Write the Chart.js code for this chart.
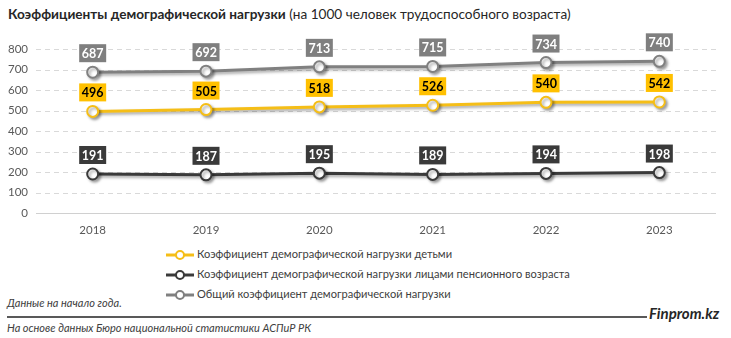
<!DOCTYPE html>
<html><head><meta charset="utf-8">
<script src="https://cdn.jsdelivr.net/npm/chart.js@4.4.1/dist/chart.umd.min.js"></script>
<style>
html,body{margin:0;padding:0;background:#fff;}
body{width:731px;height:338px;position:relative;overflow:hidden;font-family:Lato,"Open Sans",sans-serif;color:#404040;}
#title{position:absolute;left:8px;top:6px;font-size:13.6px;color:#262626;white-space:nowrap;}
#title b{font-weight:bold;}
#wrap{position:absolute;left:0;top:25px;width:731px;height:222px;}
.leg{position:absolute;left:165px;font-size:11.1px;color:#404040;white-space:nowrap;height:14px;line-height:14px;}
.leg svg{vertical-align:middle;margin-right:2px;}
#note{position:absolute;left:7px;top:296px;font-size:11px;font-style:italic;color:#404040;}
#rule{position:absolute;left:7px;top:316px;width:640px;height:2px;background:#595959;}
#brand{position:absolute;left:649px;top:304px;font-size:15px;font-weight:bold;font-style:italic;color:#262626;}
#src{position:absolute;left:7px;top:321px;font-size:11px;font-style:italic;color:#404040;}
</style></head><body>
<div id="title"><b>Коэффициенты демографической нагрузки</b> (на 1000 человек трудоспособного возраста)</div>
<div id="wrap"><canvas id="c"></canvas></div>
<div id="legend"></div>
<div id="note">Данные на начало года.</div>
<div id="rule"></div>
<div id="brand">Finprom.kz</div>
<div id="src">На основе данных Бюро национальной статистики АСПиР РК</div>
<script>
const years = ['2018','2019','2020','2021','2022','2023'];
const children = [496, 505, 518, 526, 540, 542];
const pensioners = [191, 187, 195, 189, 194, 198];
const total = [687, 692, 713, 715, 734, 740];
const seriesNames = [
  'Коэффициент демографической нагрузки детьми',
  'Коэффициент демографической нагрузки лицами пенсионного возраста',
  'Общий коэффициент демографической нагрузки'
];
const lineColors = ['#F5BE17', '#3A3A3A', '#808080'];
const boxColors = ['#FFC000', '#3A3A3A', '#7F7F7F'];
const textColors = ['#000000', '#FFFFFF', '#FFFFFF'];
const yTicks = [0,100,200,300,400,500,600,700,800];

const legend = document.getElementById('legend');
seriesNames.forEach((n,i)=>{
  const d = document.createElement('div');
  d.className='leg';
  d.style.top = (247 + i*20) + 'px';
  d.innerHTML = '<svg width="30" height="12"><line x1="1" y1="6" x2="29" y2="6" stroke="'+lineColors[i]+'" stroke-width="3"/><circle cx="15" cy="6" r="4" fill="#fff" stroke="'+lineColors[i]+'" stroke-width="2"/></svg>'+n;
  legend.appendChild(d);
});

const gridPlugin = {
  id:'dashgrid',
  beforeDatasetsDraw(chart){
    const c = chart.ctx, y = chart.scales.y, a = chart.chartArea;
    c.save();
    yTicks.forEach(v=>{
      const py = Math.round(y.getPixelForValue(v)) + 0.5;
      c.beginPath();
      c.strokeStyle = v===0 ? '#d0d0d0' : '#d9d9d9';
      c.lineWidth = 1;
      c.setLineDash(v===0 ? [] : [5,4]);
      c.moveTo(a.left, py); c.lineTo(a.right, py); c.stroke();
    });
    c.restore();
  }
};
const shadowPlugin = {
  id:'shadow',
  beforeDatasetDraw(chart){ const c=chart.ctx; c.save(); c.shadowColor='rgba(0,0,0,0.35)'; c.shadowBlur=3; c.shadowOffsetX=2; c.shadowOffsetY=2; },
  afterDatasetDraw(chart){ chart.ctx.restore(); }
};
const labelPlugin = {
  id:'labels',
  afterDatasetsDraw(chart){
    const c = chart.ctx;
    chart.data.datasets.forEach((ds,i)=>{
      const meta = chart.getDatasetMeta(i);
      meta.data.forEach((pt,j)=>{
        const txt = String(ds.data[j]);
        c.save();
        c.font = 'bold 12.5px Lato, sans-serif';
        const w = 27, h = 18;
        const cx = pt.x, cy = pt.y - 19;
        c.fillStyle = boxColors[i];
        c.fillRect(cx - w/2, cy - h/2, w, h);
        c.fillStyle = textColors[i];
        c.textAlign='center'; c.textBaseline='middle';
        c.fillText(txt, cx, cy+1);
        c.restore();
      });
    });
  }
};

const mk = (data,i)=>({
  label: seriesNames[i], data, borderColor: lineColors[i], borderWidth: 3,
  pointRadius: 5.5, pointBorderWidth: 2, pointBackgroundColor:'#fff', pointBorderColor: lineColors[i],
  tension: 0, fill:false
});

new Chart(document.getElementById('c'), {
  type:'line',
  data:{ labels: years, datasets:[mk(children,0), mk(pensioners,1), mk(total,2)] },
  options:{
    responsive:true, maintainAspectRatio:false, animation:false,
    layout:{ padding:{ top:24, right:15, left:0, bottom:0 } },
    plugins:{ legend:{display:false}, tooltip:{enabled:false} },
    scales:{
      x:{ offset:true, grid:{ display:false, drawTicks:false }, border:{ display:false },
          ticks:{ color:'#595959', font:{ size:11.5, family:'Lato' }, padding:10 } },
      y:{ min:0, max:800, afterBuildTicks(ax){ ax.ticks = yTicks.map(v=>({value:v})); },
          grid:{ display:false, drawTicks:false },
          border:{ display:false },
          ticks:{ color:'#595959', font:{ size:11.5, family:'Lato' }, padding:8 } }
    }
  },
  plugins:[gridPlugin, shadowPlugin, labelPlugin]
});
</script>
</body></html>
